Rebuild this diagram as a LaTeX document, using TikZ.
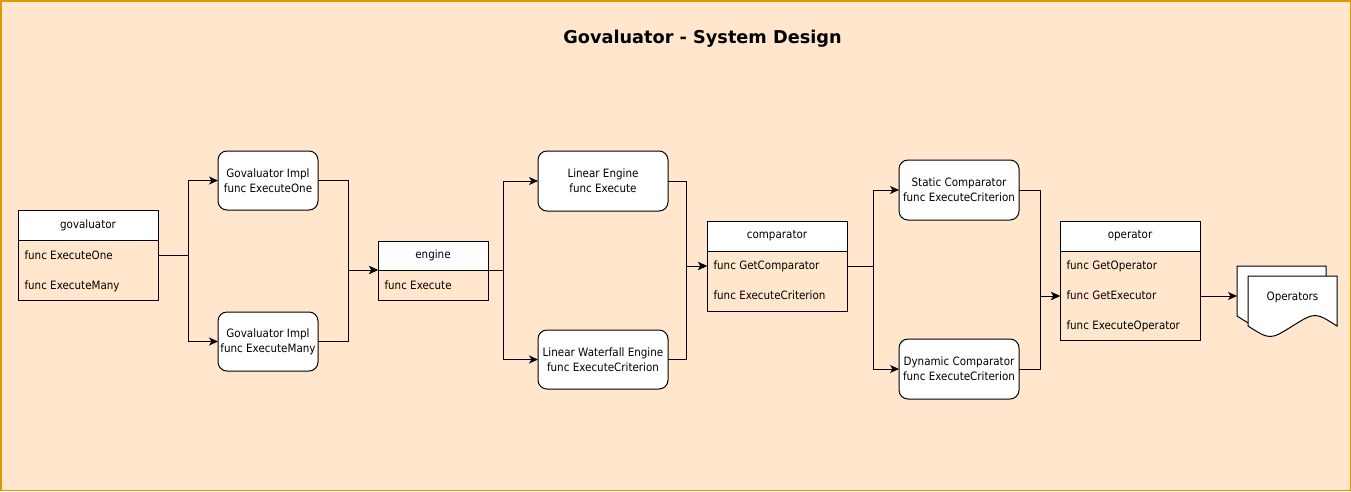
\documentclass[tikz,border=0pt]{standalone}
\usepackage{fontspec}
\setmainfont{DejaVu Sans}
\newfontfamily\diagfont{DejaVu Sans}[FakeStretch=0.9]
\usepackage{tikz}
\usetikzlibrary{arrows.meta}
\usetikzlibrary{positioning}
\definecolor{peach}{HTML}{FFE6CC}
\definecolor{frameorange}{HTML}{D79B00}
\tikzstyle{classhead} = [rectangle, draw, fill=white, minimum width=140pt,
minimum height=30pt, inner sep=0pt, outer sep=0pt]
\tikzstyle{classbody} = [rectangle, draw, minimum width=140pt,
inner sep=0pt, outer sep=0pt]
\tikzstyle{member} = [anchor=mid west, inner sep=0pt]
\tikzstyle{block} = [rectangle, draw, fill=white, rounded corners=9pt, align=center,
minimum width=100pt, minimum height=59pt, inner sep=0pt, outer sep=0pt]
\tikzstyle{line} = [draw, -{Stealth[length=9pt,width=8pt,inset=2.5pt]}]
\tikzstyle{page} = [draw, fill=white]

\begin{document}
\begin{tikzpicture}[x=1pt, y=-1pt, line width=1pt,
  font=\diagfont\fontsize{11.5}{15}\selectfont]
\useasboundingbox (0,0) rectangle (1351,491);
\fill[peach] (0,0) rectangle (1351,491);
\draw[frameorange, line width=1.5pt] (0.75,0.75) rectangle (1350.25,490.25);

% Place nodes
\node [anchor=base, font=\rmfamily\bfseries\fontsize{17.7}{20}\selectfont] (title) at (702.5,43) {Govaluator - System Design};

\node [classhead] (gov) at (88,225) {govaluator};
\node [classbody, minimum height=60pt, below=0pt of gov] (govbody) {};
\node [member] (gov1) at ([xshift=6pt, yshift=-16.5pt]govbody.north west) {func ExecuteOne};
\node [member] (gov2) at ([xshift=6pt, yshift=-46.5pt]govbody.north west) {func ExecuteMany};

\node [block] (implone) at (268,180.5) {Govaluator Impl\\func ExecuteOne};
\node [block] (implmany) at (268,341.5) {Govaluator Impl\\func ExecuteMany};

\node [classhead, minimum width=110pt, minimum height=29pt] (engine) at (433,255.5) {engine};
\node [classbody, minimum width=110pt, minimum height=30pt, below=0pt of engine] (enginebody) {};
\node [member] (engine1) at ([xshift=6pt, yshift=-16.5pt]enginebody.north west) {func Execute};

\node [block, minimum width=130pt, minimum height=60pt] (linear) at (603,181) {Linear Engine\\func Execute};
\node [block, minimum width=130pt] (waterfall) at (603,359.5) {Linear Waterfall Engine\\func ExecuteCriterion};

\node [classhead] (comp) at (777,236) {comparator};
\node [classbody, minimum height=60pt, below=0pt of comp] (compbody) {};
\node [member] (comp1) at ([xshift=6pt, yshift=-16pt]compbody.north west) {func GetComparator};
\node [member] (comp2) at ([xshift=6pt, yshift=-46pt]compbody.north west) {func ExecuteCriterion};

\node [block, minimum width=120pt, minimum height=60pt] (static) at (959,190) {Static Comparator\\func ExecuteCriterion};
\node [block, minimum width=120pt, minimum height=60pt] (dynamic) at (959,369) {Dynamic Comparator\\func ExecuteCriterion};

\node [classhead] (op) at (1130,236) {operator};
\node [classbody, minimum height=89pt, below=0pt of op] (opbody) {};
\node [member] (op1) at ([xshift=6pt, yshift=-16pt]opbody.north west) {func GetOperator};
\node [member] (op2) at ([xshift=6pt, yshift=-46pt]opbody.north west) {func GetExecutor};
\node [member] (op3) at ([xshift=6pt, yshift=-76pt]opbody.north west) {func ExecuteOperator};

% Operators pages
\path [page] (1237,266) -- (1326,266) -- (1326,316) .. controls (1304,302) .. (1281.5,316)
  .. controls (1259,330) .. (1237,316) -- cycle;
\path [page] (1248,276) -- (1337,276) -- (1337,326) .. controls (1315,312) .. (1292.5,326)
  .. controls (1270,340) .. (1248,326) -- cycle;
\node [] (ops) at (1292.5,297.5) {Operators};
\coordinate (opsin) at (1237,296);

% Draw edges
\path [line] ([yshift=-15pt]govbody.north east) -- ++(30,0) |- (implone);
\path [line] ([yshift=-15pt]govbody.north east) -- ++(30,0) |- (implmany);
\path [line] (implone.east) -- ++(30,0) |- (engine.south west);
\path [line] (implmany.east) -- ++(30,0) |- (engine.south west);
\path [line] (engine.south east) -- ++(15,0) |- (linear);
\path [line] (engine.south east) -- ++(15,0) |- (waterfall);
\path [line] (linear.east) -- ++(18,0) |- ([yshift=-15pt]compbody.north west);
\path [line] (waterfall.east) -- ++(18,0) |- ([yshift=-15pt]compbody.north west);
\path [line] ([yshift=-15pt]compbody.north east) -- ++(26,0) |- (static);
\path [line] ([yshift=-15pt]compbody.north east) -- ++(26,0) |- (dynamic);
\path [line] (static.east) -- ++(21,0) |- ([yshift=-45pt]opbody.north west);
\path [line] (dynamic.east) -- ++(21,0) |- ([yshift=-45pt]opbody.north west);
\path [line] ([yshift=-45pt]opbody.north east) -- (opsin);
\end{tikzpicture}
\end{document}
